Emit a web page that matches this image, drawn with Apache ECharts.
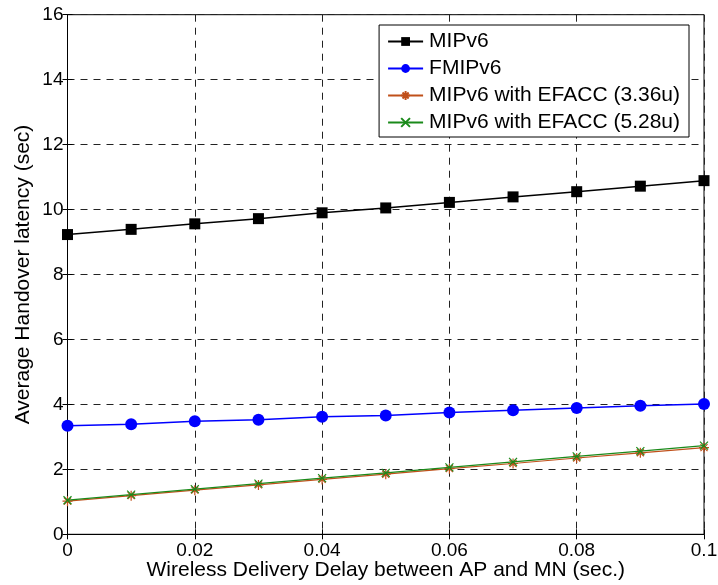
<!DOCTYPE html>
<html>
<head>
<meta charset="utf-8">
<script src="https://cdn.jsdelivr.net/npm/echarts@6/dist/echarts.min.js"></script>
<style>html,body{margin:0;padding:0;background:#fff}#c{width:718px;height:585px}</style>
</head>
<body>
<div id="c"></div>
<script>
const xValues = [0, 0.01, 0.02, 0.03, 0.04, 0.05, 0.06, 0.07, 0.08, 0.09, 0.1];
const mipv6 = [9.23, 9.39, 9.56, 9.72, 9.90, 10.05, 10.22, 10.39, 10.55, 10.72, 10.89];
const fmipv6 = [3.34, 3.39, 3.48, 3.53, 3.62, 3.66, 3.75, 3.82, 3.89, 3.96, 4.01];
const efacc336 = [1.02, 1.19, 1.36, 1.52, 1.69, 1.85, 2.02, 2.18, 2.35, 2.51, 2.67];
const efacc528 = [1.05, 1.22, 1.39, 1.56, 1.73, 1.89, 2.06, 2.23, 2.40, 2.56, 2.73];
const seriesNames = ['MIPv6', 'FMIPv6', 'MIPv6 with EFACC (3.36u)', 'MIPv6 with EFACC (5.28u)'];
const xTicks = [0, 0.02, 0.04, 0.06, 0.08, 0.1];

const pair = arr => xValues.map((x, i) => [x, arr[i]]);
const FONT = 'Liberation Sans, Arial, sans-serif';
const asterisk = 'path://M0,5L10,5M5,0L5,10M1.5,1.5L8.5,8.5M8.5,1.5L1.5,8.5';
const cross = 'path://M1,1L9,9M9,1L1,9';

const chart = echarts.init(document.getElementById('c'), null, {renderer: 'canvas'});
const gridLine = {show: true, lineStyle: {color: '#222', type: [7, 6], width: 1}};
chart.setOption({
  backgroundColor: '#fff',
  animation: false,
  grid: {left: 67.5, right: 14, top: 14.7, bottom: 50.7, show: true, borderColor: '#000', borderWidth: 1,
    backgroundColor: 'transparent', containLabel: false, outerBoundsMode: 'none'},
  legend: {
    right: 29, top: 25, orient: 'vertical',
    backgroundColor: '#fff', borderColor: '#000', borderWidth: 1,
    padding: [6, 9, 4, 8], itemGap: 6, itemWidth: 35, itemHeight: 11,
    textStyle: {fontFamily: FONT, fontSize: 21, color: '#000', padding: [0, 0, 0, 1]},
    data: seriesNames
  },
  xAxis: [{
    type: 'value', min: 0, max: 0.1, interval: 0.02,
    name: 'Wireless Delivery Delay between AP and MN (sec.)',
    nameLocation: 'middle', nameGap: 25, nameMoveOverlap: false,
    nameTextStyle: {fontFamily: FONT, fontSize: 21, color: '#000'},
    axisLine: {show: true, lineStyle: {color: '#000'}},
    axisTick: {show: true, inside: true, length: 5, lineStyle: {color: '#000'}},
    axisLabel: {fontFamily: FONT, fontSize: 19, color: '#000', margin: 7,
      formatter: v => String(+v.toFixed(2))},
    splitLine: gridLine
  }, {
    type: 'value', min: 0, max: 0.1, interval: 0.02, position: 'top',
    axisLine: {show: true, lineStyle: {color: '#000'}},
    axisTick: {show: true, inside: true, length: 5, lineStyle: {color: '#000'}},
    axisLabel: {show: false}, splitLine: {show: false}
  }],
  yAxis: [{
    type: 'value', min: 0, max: 16, interval: 2,
    name: 'Average Handover latency (sec)',
    nameLocation: 'middle', nameGap: 34, nameMoveOverlap: false,
    nameTextStyle: {fontFamily: FONT, fontSize: 21, color: '#000'},
    axisLine: {show: true, lineStyle: {color: '#000'}},
    axisTick: {show: true, inside: true, length: 5, lineStyle: {color: '#000'}},
    axisLabel: {fontFamily: FONT, fontSize: 19, color: '#000', margin: 4},
    splitLine: gridLine
  }, {
    type: 'value', min: 0, max: 16, interval: 2, position: 'right',
    axisLine: {show: true, lineStyle: {color: '#000'}},
    axisTick: {show: true, inside: true, length: 5, lineStyle: {color: '#000'}},
    axisLabel: {show: false}, splitLine: {show: false}
  }],
  series: [
    {name: seriesNames[0], type: 'line', data: pair(mipv6), symbol: 'rect', symbolSize: 11,
     itemStyle: {color: '#000'}, lineStyle: {color: '#000', width: 1.5}, z: 5},
    {name: seriesNames[1], type: 'line', data: pair(fmipv6), symbol: 'circle', symbolSize: 12,
     itemStyle: {color: '#0000ff'}, lineStyle: {color: '#0000ff', width: 1.5}, z: 5},
    {name: seriesNames[3], type: 'line', data: pair(efacc528), symbol: cross, symbolSize: 8, symbolKeepAspect: true,
     itemStyle: {color: 'transparent', borderColor: '#1a8a1a', borderWidth: 1.2}, lineStyle: {color: '#1a8a1a', width: 1.2}, z: 4},
    {name: seriesNames[2], type: 'line', data: pair(efacc336), symbol: asterisk, symbolSize: 10, symbolKeepAspect: true,
     itemStyle: {color: 'transparent', borderColor: '#c0501a', borderWidth: 1.2}, lineStyle: {color: '#c0501a', width: 1.2}, z: 3}
  ]
});
</script>
</body>
</html>
